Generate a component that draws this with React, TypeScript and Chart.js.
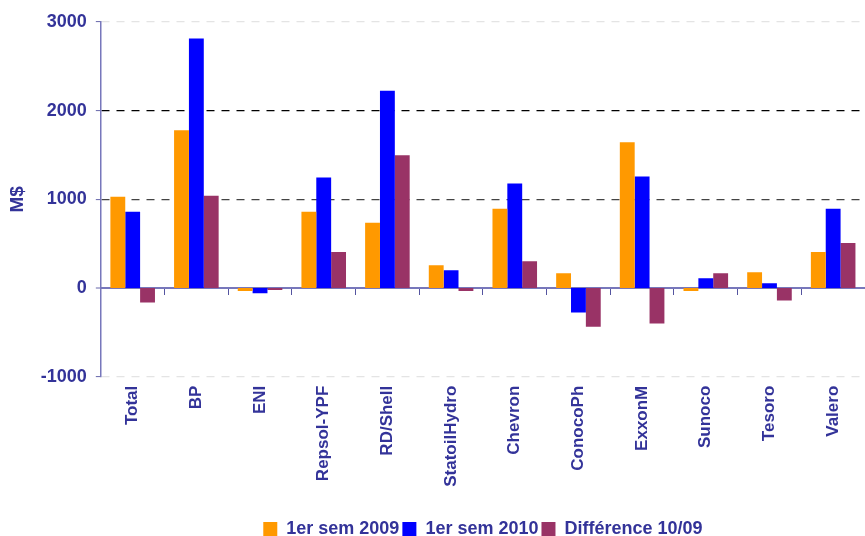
import React, { useEffect, useRef } from "react";
import { Chart, registerables } from "chart.js";

Chart.register(...registerables);

const categories = ["Total", "BP", "ENI", "Repsol-YPF", "RD/Shell", "StatoilHydro", "Chevron", "ConocoPh", "ExxonM", "Sunoco", "Tesoro", "Valero"];
const sem2009 = [1030, 1780, -34, 860, 735, 258, 894, 167, 1644, -34, 178, 406];
const sem2010 = [860, 2815, -60, 1247, 2224, 201, 1178, -276, 1258, 110, 53, 894];
const diff = [-164, 1042, -22, 406, 1497, -34, 303, -435, -401, 167, -140, 508];
const seriesNames = ["1er sem 2009", "1er sem 2010", "Différence 10/09"];
const yTicks = [-1000, 0, 1000, 2000, 3000];

const TEXT = "#333399";
const FONT = "'Liberation Sans', Arial, sans-serif";

export default function App() {
  const ref = useRef<HTMLCanvasElement>(null);
  useEffect(() => {
    if (!ref.current) return;
    const chart = new Chart(ref.current, {
      type: "bar",
      data: {
        labels: categories,
        datasets: [
          { label: seriesNames[0], data: sem2009, backgroundColor: "#FF9900", xAxisID: "x" },
          { label: seriesNames[1], data: sem2010, backgroundColor: "#0000FF", xAxisID: "x" },
          { label: seriesNames[2], data: diff, backgroundColor: "#993366", xAxisID: "x" },
        ],
      },
      options: {
        animation: false,
        responsive: false,
        maintainAspectRatio: false,
        layout: { padding: { top: 22, right: 0, left: 6, bottom: -12 } },
        datasets: { bar: { categoryPercentage: 0.7, barPercentage: 1 } },
        plugins: {
          legend: {
            position: "bottom",
            fullSize: false,
            labels: {
              color: TEXT,
              font: { family: FONT, size: 18, weight: "bold" },
              boxWidth: 14,
              boxHeight: 14,
              padding: 3,
            },
          },
          tooltip: { enabled: false },
        },
        scales: {
          x: {
            position: "bottom",
            grid: { display: false, drawTicks: false },
            border: { display: false },
            ticks: {
              color: TEXT,
              font: { family: FONT, size: 17, weight: "bold" },
              maxRotation: 90,
              minRotation: 90,
              padding: 9,
            },
            title: {
              display: true,
              text: " ",
              font: { size: 1 },
              padding: { top: 0, bottom: 20 },
            },
          },
          x2: {
            type: "category",
            labels: categories,
            position: { y: 0 },
            offset: true,
            grid: { offset: true, drawOnChartArea: false, drawTicks: true, tickLength: 6, color: "#5555a0" },
            border: { display: true, color: "#7777bb", width: 2 },
            ticks: { display: false },
          },
          y: {
            min: -1000,
            max: 3000,
            afterBuildTicks: (s: any) => { s.ticks = yTicks.map((v) => ({ value: v })); },
            grid: {
              color: (c: any) => {
                const v = c.tick && c.tick.value;
                if (v === 2000) return "#000000";
                if (v === 1000) return "#444444";
                return "#e4e4e4";
              },
              lineWidth: (c: any) => (c.tick && c.tick.value === 0 ? 0 : 1.2),
              tickLength: 5,
              tickColor: "#6666aa",
              tickWidth: 1,
              drawTicks: true,
            },
            border: { display: true, color: "#7777bb", width: 1.5, dash: [8, 7] },
            ticks: {
              color: TEXT,
              font: { family: FONT, size: 18, weight: "bold" },
              padding: 9,
              callback: (v: any) => String(v),
            },
            title: {
              display: true,
              text: "M$",
              color: TEXT,
              font: { family: FONT, size: 19, weight: "bold" },
              padding: { top: 0, bottom: 3 },
            },
          },
        },
      },
    });
    return () => chart.destroy();
  }, []);
  return (
    <div style={{ position: "fixed", left: 0, top: 0, width: 865, height: 536, background: "#fff" }}>
      <canvas ref={ref} width={865} height={536} style={{ width: 865, height: 536 }} />
    </div>
  );
}
